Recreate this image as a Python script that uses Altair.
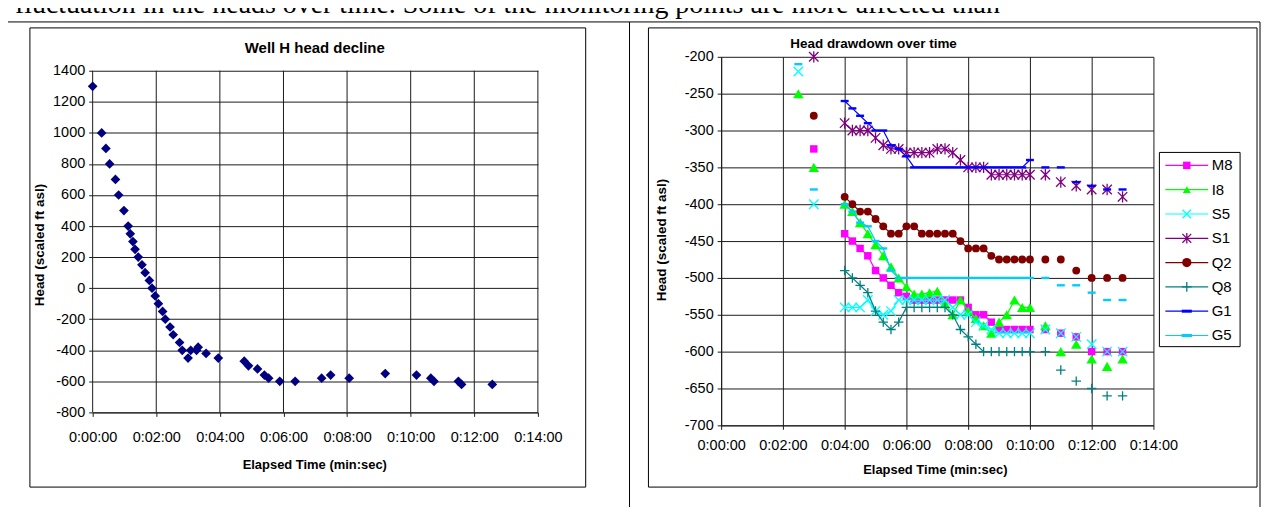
import altair as alt
import pandas as pd

FONT = "Liberation Sans"
SERIF = "Liberation Serif"
GRID = "#1a1a1a"
TICK_FS = 14.5


def to_min(s):
    h, m, sec = (int(p) for p in s.split(":"))
    return h * 60 + m + sec / 60.0


# ---------------- left chart : Well H head decline ----------------
WELL_H_TIME = [
    "0:00:00", "0:00:17", "0:00:25", "0:00:32", "0:00:43", "0:00:49", "0:00:59",
    "0:01:07", "0:01:11", "0:01:16", "0:01:20", "0:01:26", "0:01:33", "0:01:39",
    "0:01:47", "0:01:52", "0:01:58", "0:02:04", "0:02:12", "0:02:17", "0:02:26",
    "0:02:32", "0:02:44", "0:02:49", "0:03:00", "0:03:05", "0:03:16", "0:03:19",
    "0:03:34", "0:03:57", "0:04:46", "0:04:54", "0:05:11", "0:05:24", "0:05:32",
    "0:05:53", "0:06:22", "0:07:12", "0:07:29", "0:08:04", "0:09:12", "0:10:11",
    "0:10:38", "0:10:44", "0:11:30", "0:11:36", "0:12:34",
]
WELL_H_HEAD = [
    1300, 1000, 900, 800, 700, 600, 500,
    400, 350, 300, 250, 200, 150, 100,
    50, 0, -50, -100, -150, -200, -250,
    -300, -350, -400, -450, -400, -400, -380,
    -420, -450, -470, -500, -520, -560, -580,
    -600, -600, -580, -560, -580, -550, -560,
    -580, -600, -600, -620, -620,
]
X_TICKS = ["0:00:00", "0:02:00", "0:04:00", "0:06:00", "0:08:00", "0:10:00", "0:12:00", "0:14:00"]
LEFT_Y_TICKS = [-800, -600, -400, -200, 0, 200, 400, 600, 800, 1000, 1200, 1400]

# ---------------- right chart : Head drawdown over time ----------------
RIGHT_Y_TICKS = [-700, -650, -600, -550, -500, -450, -400, -350, -300, -250, -200]
EARLY_TIME = ["0:02:30", "0:03:00"]
DENSE_TIME = [
    "0:04:00", "0:04:15", "0:04:30", "0:04:45", "0:05:00", "0:05:15", "0:05:30",
    "0:05:45", "0:06:00", "0:06:15", "0:06:30", "0:06:45", "0:07:00", "0:07:15",
    "0:07:30", "0:07:45", "0:08:00", "0:08:15", "0:08:30", "0:08:45", "0:09:00",
    "0:09:15", "0:09:30", "0:09:45", "0:10:00",
]
LATE_TIME = ["0:10:30", "0:11:00", "0:11:30", "0:12:00", "0:12:30", "0:13:00"]

SERIES = ["M8", "I8", "S5", "S1", "Q2", "Q8", "G1", "G5"]

M8_EARLY = [None, -325]
M8_DENSE = [-440, -450, -460, -470, -490, -500, -510, -520, -525, -530, -530, -530, -530,
            -530, -530, -530, -540, -550, -550, -560, -570, -570, -570, -570, -570]
M8_LATE = [-570, -575, -580, -600, -600, -600]

I8_EARLY = [-250, -350]
I8_DENSE = [-400, -410, -425, -440, -455, -470, -485, -500, -512, -522, -522, -520, -518,
            -535, -550, -530, -545, -555, -565, -575, -560, -550, -530, -540, -540]
I8_LATE = [-565, -600, -590, -610, -620, -610]

S5_EARLY = [-220, -400]
S5_DENSE = [-540, -540, -540, -530, -545, -550, -545, -530, -530, -530, -530, -530, -530,
            -530, -540, -550, -550, -560, -565, -570, -575, -575, -575, -575, -575]
S5_LATE = [-570, -575, -580, -590, -600, -600]

S1_EARLY = [None, -200]
S1_DENSE = [-290, -300, -300, -300, -310, -320, -325, -325, -330, -330, -330, -330, -325,
            -325, -330, -340, -350, -350, -350, -360, -360, -360, -360, -360, -360]
S1_LATE = [-360, -370, -375, -380, -380, -390]

Q2_EARLY = [None, -280]
Q2_DENSE = [-390, -400, -410, -410, -420, -430, -440, -440, -430, -430, -440, -440, -440,
            -440, -440, -450, -460, -460, -460, -470, -475, -475, -475, -475, -475]
Q2_LATE = [-475, -475, -490, -500, -500, -500]

Q8_EARLY = [None, None]
Q8_DENSE = [-490, -500, -510, -520, -545, -560, -570, -560, -540, -540, -540, -540, -540,
            -540, -550, -570, -580, -590, -600, -600, -600, -600, -600, -600, -600]
Q8_LATE = [-600, -625, -640, -650, -660, -660]

G1_EARLY = [None, None]
G1_DENSE = [-260, -270, -280, -290, -300, -300, -320, -325, -335, -350, -350, -350, -350,
            -350, -350, -350, -350, -350, -350, -350, -350, -350, -350, -350, -340]
G1_LATE = [-350, -350, -370, -375, -380, -380]

G5_EARLY = [-210, -380]
G5_DENSE = [-400, -410, -425, -430, -450, -460, -490, -500, -500, -500, -500, -500, -500,
            -500, -500, -500, -500, -500, -500, -500, -500, -500, -500, -500, -500]
G5_LATE = [-500, -510, -510, -520, -530, -530]

SERIES_DATA = {
    "M8": (M8_EARLY, M8_DENSE, M8_LATE),
    "I8": (I8_EARLY, I8_DENSE, I8_LATE),
    "S5": (S5_EARLY, S5_DENSE, S5_LATE),
    "S1": (S1_EARLY, S1_DENSE, S1_LATE),
    "Q2": (Q2_EARLY, Q2_DENSE, Q2_LATE),
    "Q8": (Q8_EARLY, Q8_DENSE, Q8_LATE),
    "G1": (G1_EARLY, G1_DENSE, G1_LATE),
    "G5": (G5_EARLY, G5_DENSE, G5_LATE),
}

# ---------------- styles ----------------
X_PATH = "M-1,-1L1,1M-1,1L1,-1"
AST_PATH = "M-1,-1L1,1M-1,1L1,-1M0,-1.2L0,1.2"
PLUS_PATH = "M-1,0L1,0M0,-1L0,1"
DASH_PATH = "M-1,-0.3L1,-0.3L1,0.3L-1,0.3Z"
STYLE = {
    "M8": dict(color="#FF00FF", shape="square", size=56, filled=True),
    "I8": dict(color="#00FF00", shape="triangle-up", size=110, filled=True),
    "S5": dict(color="#00FFFF", shape=X_PATH, size=90, filled=False),
    "S1": dict(color="#800080", shape=AST_PATH, size=90, filled=False),
    "Q2": dict(color="#800000", shape="circle", size=62, filled=True),
    "Q8": dict(color="#008080", shape=PLUS_PATH, size=90, filled=False),
    "G1": dict(color="#0000FF", shape=DASH_PATH, size=64, filled=True),
    "G5": dict(color="#00CCFF", shape=DASH_PATH, size=64, filled=True),
}

LBL_T = "'0:' + (datum.value < 10 ? '0' : '') + datum.value + ':00'"
LBL_Y = "'' + datum.value"
one = pd.DataFrame({"k": [0]})


def rule(x, y, x2=None, y2=None, color="black", width=1.0):
    enc = dict(x=alt.value(x), y=alt.value(y))
    if x2 is not None:
        enc["x2"] = alt.value(x2)
    if y2 is not None:
        enc["y2"] = alt.value(y2)
    return alt.Chart(one).mark_rule(color=color, strokeWidth=width).encode(**enc)


def frame(x, y, x2, y2, fill="transparent"):
    return alt.Chart(one).mark_rect(fill=fill, stroke="black", strokeWidth=1).encode(
        x=alt.value(x), x2=alt.value(x2), y=alt.value(y), y2=alt.value(y2))


def label(s, x, y, size=13, weight="normal", font=FONT, angle=0, align="center", baseline="middle"):
    kw = dict(font=font, fontSize=size, fontWeight=weight, align=align, baseline=baseline, color="black")
    if angle:
        kw["angle"] = angle
    return alt.Chart(one).mark_text(**kw).encode(x=alt.value(x), y=alt.value(y), text=alt.value(s))


def time_axis(grid, pad):
    return alt.Axis(values=[to_min(s) for s in X_TICKS], labelExpr=LBL_T, grid=grid,
                    gridColor=GRID, domain=True, domainColor=GRID, ticks=True, tickColor=GRID,
                    tickSize=4, labelFont=FONT, labelFontSize=TICK_FS, labelColor="black",
                    labelPadding=pad, labelFlush=False, labelOverlap=False, title=None)


def head_axis(values, domain):
    return alt.Axis(values=values, labelExpr=LBL_Y, grid=True, gridColor=GRID, domain=domain,
                    domainColor=GRID, ticks=True, tickColor=GRID, tickSize=4, labelFont=FONT,
                    labelFontSize=TICK_FS, labelColor="black", labelPadding=4, labelFlush=False,
                    labelOverlap=False, title=None)


# ================= left chart =================
LW, LH = 447, 357          # plot origin on page: (93, 56)
left_df = pd.DataFrame({"t": [to_min(s) for s in WELL_H_TIME], "head": WELL_H_HEAD})
vgrid_df = pd.DataFrame({"t": [to_min(s) for s in X_TICKS],
                         "head": [LEFT_Y_TICKS[-1]] * len(X_TICKS),
                         "head2": [LEFT_Y_TICKS[0]] * len(X_TICKS)})

lx = alt.X("t:Q", scale=alt.Scale(domain=[0, 14], nice=False, zero=False),
           axis=time_axis(False, 14))
ly = alt.Y("head:Q", scale=alt.Scale(domain=[-800, 1490], nice=False, zero=False),
           axis=head_axis(LEFT_Y_TICKS, False))

left_pin = alt.Chart(one).mark_rect(opacity=0).encode(
    x=alt.value(-93), x2=alt.value(0), y=alt.value(-70), y2=alt.value(0))
doc_text = label("fluctuation in the heads over time. Some of the monitoring points are more affected than",
                 -78, -44, size=28, font=SERIF, align="left", baseline="alphabetic")
table = [
    rule(-90, -35, x2=1172),
    rule(-90, -35, y2=452),
    rule(539, -35, y2=452),
    rule(1172, -35, y2=452),
]
left_frame = frame(-63, -29, 495, 432)
vgrid = alt.Chart(vgrid_df).mark_rule(color=GRID, strokeWidth=1).encode(
    x=lx, y=ly, y2="head2:Q")
left_pts = alt.Chart(left_df).mark_point(shape="diamond", filled=True, size=95, opacity=1,
                                         color="#000080").encode(x=lx, y=ly)
left_titles = [
    label("Well H head decline", 223, -9, size=15, weight="bold"),
    label("Elapsed Time (min:sec)", 223, 410, size=13, weight="bold"),
    label("Head (scaled ft asl)", -53, 189, size=13.5, weight="bold", angle=270),
]
left = alt.layer(left_pin, doc_text, left_frame, *table, vgrid, left_pts, *left_titles).properties(
    width=LW, height=LH)

# ================= right chart =================
RW, RH = 434, 370          # plot origin on page: (724, 56)
rows = []
for s in SERIES:
    early, dense, late = SERIES_DATA[s]
    for phase, times, vals in (("early", EARLY_TIME, early), ("dense", DENSE_TIME, dense),
                               ("late", LATE_TIME, late)):
        for tt, v in zip(times, vals):
            if v is not None:
                rows.append({"series": s, "phase": phase, "t": to_min(tt), "head": v})
right_df = pd.DataFrame(rows)

rx = alt.X("t:Q", scale=alt.Scale(domain=[0, 14], nice=False, zero=False),
           axis=time_axis(True, 9))
ry = alt.Y("head:Q", scale=alt.Scale(domain=[-700, -200], nice=False, zero=False),
           axis=head_axis(RIGHT_Y_TICKS, True))

right_frame = frame(-73, -29, 538, 432)
series_layers = []
for s in SERIES:
    st = STYLE[s]
    base = alt.Chart(right_df).transform_filter(alt.datum.series == s)
    series_layers.append(
        base.transform_filter(alt.datum.phase == "dense").mark_line(
            color=st["color"], strokeWidth=1.2).encode(x=rx, y=ry))
    pkw = dict(shape=st["shape"], size=st["size"], filled=st["filled"], color=st["color"], opacity=1)
    if not st["filled"]:
        pkw["strokeWidth"] = 1.3
    series_layers.append(base.mark_point(**pkw).encode(x=rx, y=ry))

cscale = alt.Scale(domain=SERIES, range=[STYLE[s]["color"] for s in SERIES])
sscale = alt.Scale(domain=SERIES, range=[STYLE[s]["shape"] for s in SERIES])
zscale = alt.Scale(domain=SERIES, range=[STYLE[s]["size"] for s in SERIES])
legend_df = pd.DataFrame({"series": SERIES, "idx": list(range(len(SERIES)))})
leg = alt.Chart(legend_df).transform_calculate(ly="109 + 24.4 * datum.idx")
leg_y = alt.Y("ly:Q", scale=None)
leg_box = frame(440, 96, 521, 291, fill="white")
leg_line = leg.mark_rule(strokeWidth=1.2).encode(
    x=alt.value(446), x2=alt.value(489), y=leg_y,
    color=alt.Color("series:N", scale=cscale, legend=None))
filled_names = [s for s in SERIES if STYLE[s]["filled"]]
hollow_names = [s for s in SERIES if not STYLE[s]["filled"]]
leg_pts_f = leg.transform_filter(alt.FieldOneOfPredicate(field="series", oneOf=filled_names)).mark_point(
    filled=True, opacity=1).encode(
    x=alt.value(467.5), y=leg_y,
    color=alt.Color("series:N", scale=cscale, legend=None),
    shape=alt.Shape("series:N", scale=sscale, legend=None),
    size=alt.Size("series:N", scale=zscale, legend=None))
leg_pts_h = leg.transform_filter(alt.FieldOneOfPredicate(field="series", oneOf=hollow_names)).mark_point(
    filled=False, opacity=1, strokeWidth=1.3).encode(
    x=alt.value(467.5), y=leg_y,
    color=alt.Color("series:N", scale=cscale, legend=None),
    shape=alt.Shape("series:N", scale=sscale, legend=None),
    size=alt.Size("series:N", scale=zscale, legend=None))
leg_text = leg.mark_text(align="left", baseline="middle", font=FONT, fontSize=15, color="black").encode(
    x=alt.value(492.5), y=leg_y, text="series:N")

right_titles = [
    label("Head drawdown over time", 153, -13, size=13.5, weight="bold"),
    label("Elapsed Time (min:sec)", 215, 415, size=13, weight="bold"),
    label("Head (scaled ft asl)", -59, 184, size=13.5, weight="bold", angle=270),
]
right = alt.layer(right_frame, *series_layers, leg_box, leg_line, leg_pts_f, leg_pts_h, leg_text,
                  *right_titles).properties(width=RW, height=RH)

chart = alt.hconcat(left, right, spacing=184, bounds="flush").configure_view(
    strokeWidth=0).properties(
    padding={"left": -8, "top": -22, "right": 0, "bottom": 0}, background="white")

chart.save("out.html", embed_options={"renderer": "svg", "actions": False})
